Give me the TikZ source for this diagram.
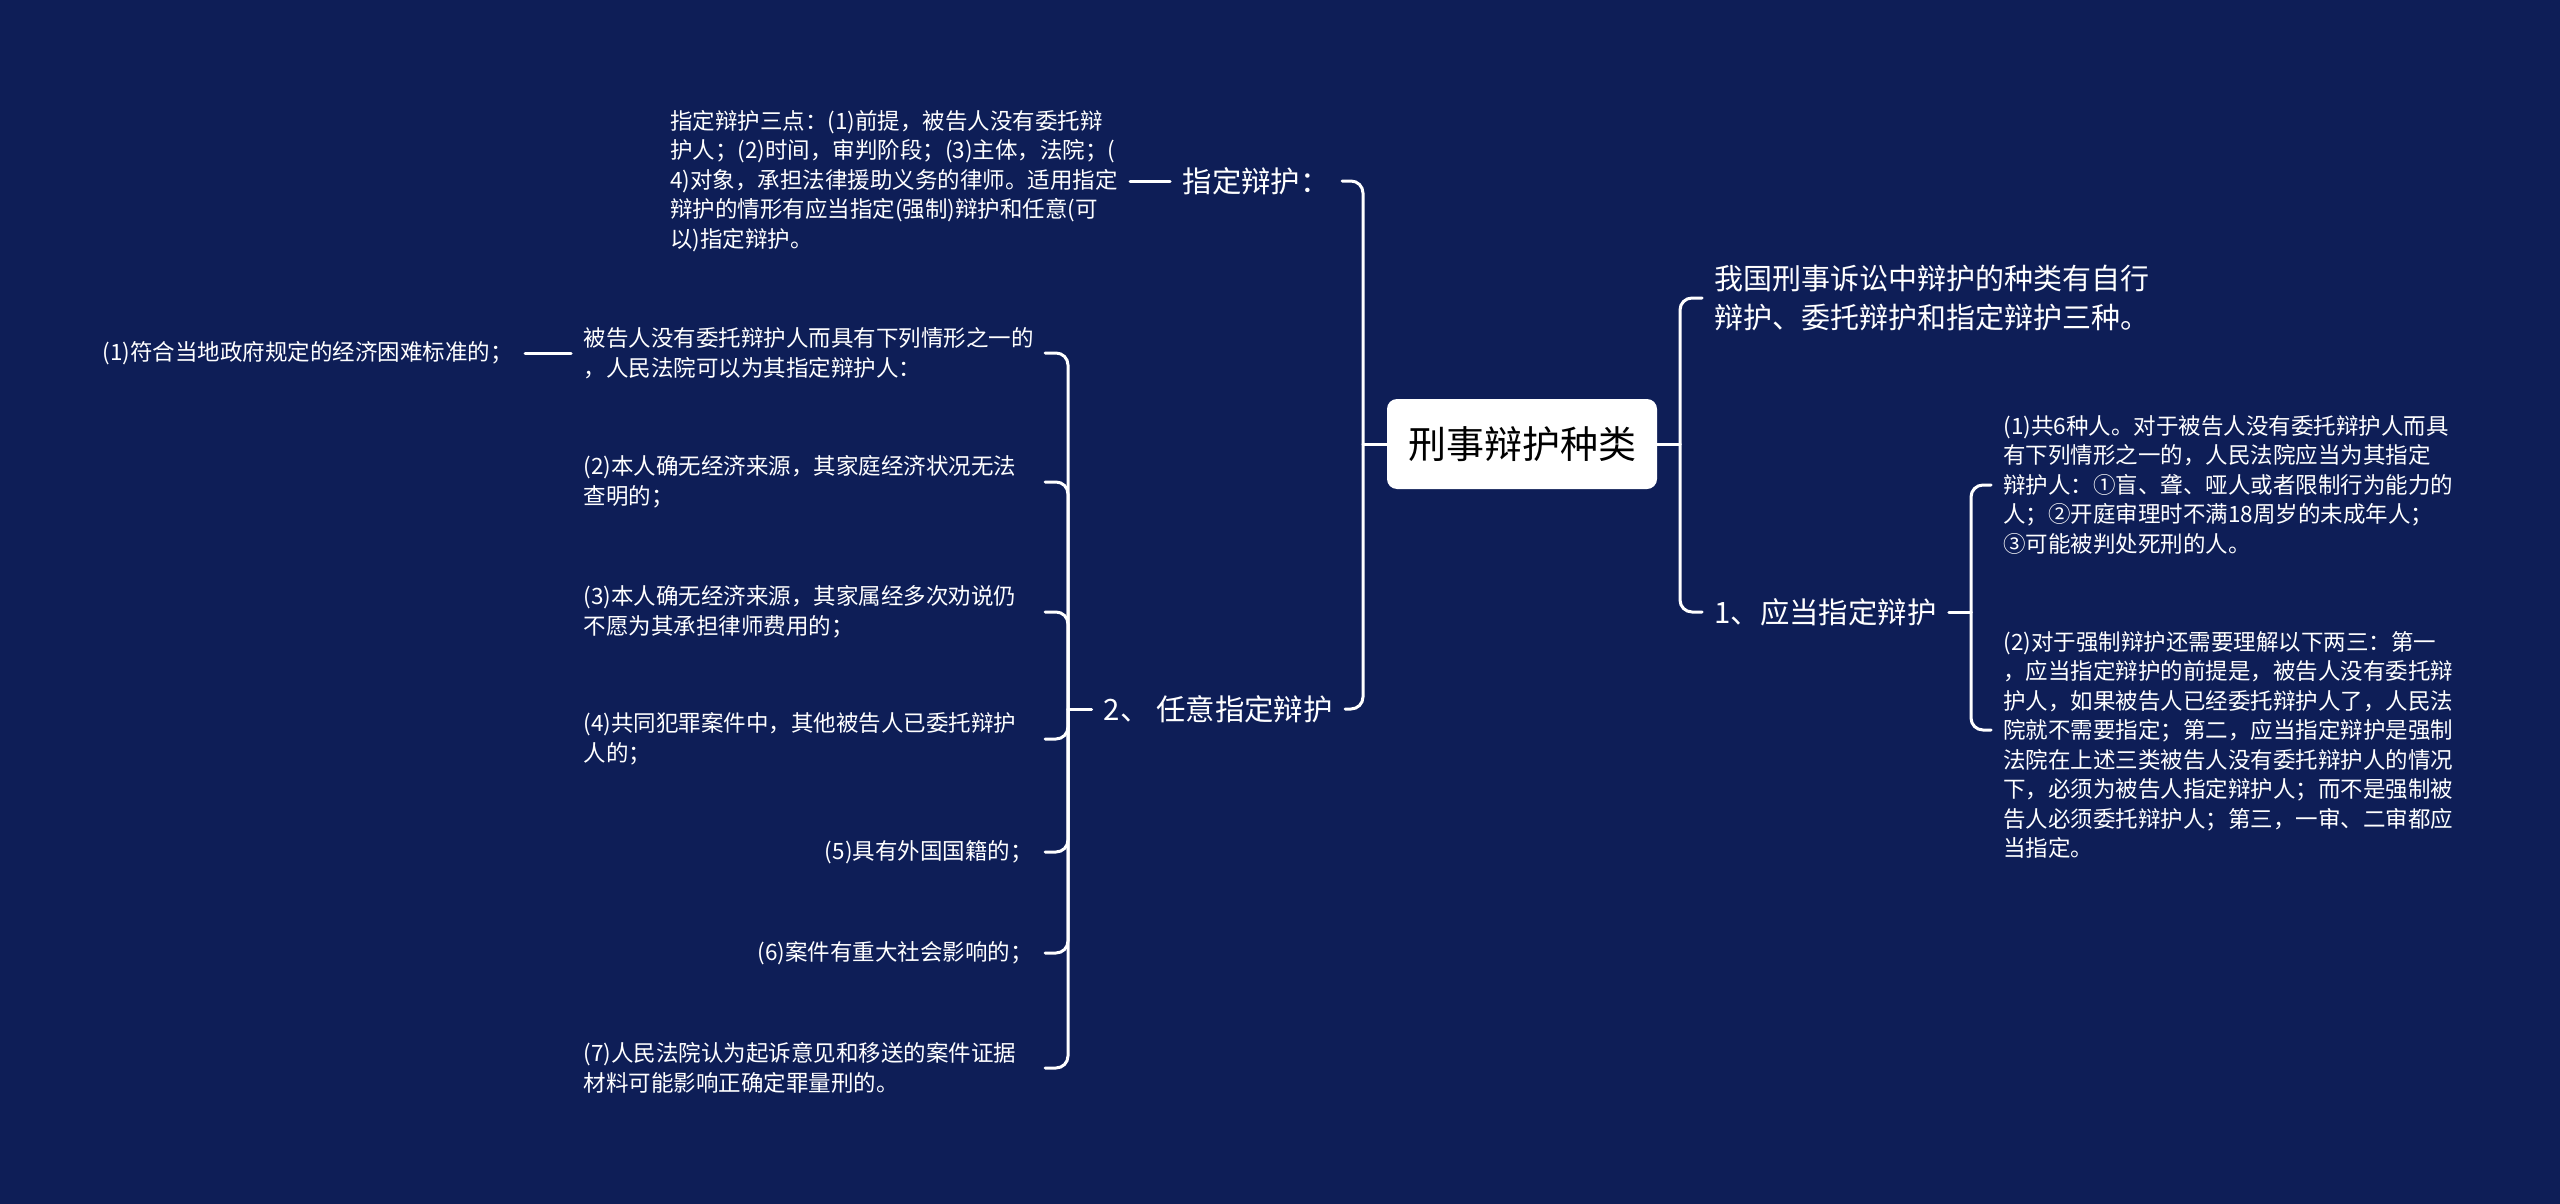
\documentclass[tikz,border=0pt]{standalone}
\usepackage{fontspec}
\setmainfont{Noto Sans CJK SC}
\usepackage{tikz}
\usetikzlibrary{positioning}
\definecolor{bgblue}{RGB}{14,30,87}

\begin{document}
\begin{tikzpicture}[x=0.5pt,y=-0.5pt]%
\fill[bgblue] (0,0) rectangle (2560,1204);
\useasboundingbox (0,0) rectangle (2560,1204);
\tikzstyle{link}=[draw=white,line width=1.5pt,rounded corners=6pt,line cap=round]
\tikzstyle{txt}=[text=white,font=\fontsize{11.25}{14.75}\selectfont,align=left,inner sep=6pt]
\tikzstyle{para}=[txt,text width=224.5pt]
\tikzstyle{lbl}=[text=white,font=\fontsize{14.7}{17}\selectfont,inner sep=6pt]
%% root
\node[fill=white,rounded corners=5pt,minimum width=135pt,minimum height=45pt,font=\fontsize{19}{22}\selectfont] (root) at (1522,444) {刑事辩护种类}; %%
%% left side
\node[lbl,anchor=east] (zd) at (1342,181) {指定辩护：}; %%
\node[txt,anchor=east] (zdtxt) at (1130,181) {指定辩护三点：(1)前提，被告人没有委托辩\\护人；(2)时间，审判阶段；(3)主体，法院；(\\4)对象，承担法律援助义务的律师。适用指定\\辩护的情形有应当指定(强制)辩护和任意(可\\以)指定辩护。}; %%
\node[lbl,anchor=east] (rz) at (1345,709) {2、 任意指定辩护}; %%
\coordinate (lb) at (1363,444);
\draw[link] (root.west) -- (lb);
\draw[link] (lb) |- (zd.east);
\draw[link] (lb) |- (rz.east);
\draw[link] (zdtxt.east) -- (zd.west);
\begin{scope}[every node/.style={txt,anchor=east}]
\node[para] (n1) at (1045,353) {被告人没有委托辩护人而具有下列情形之一的\\，人民法院可以为其指定辩护人：}; %%
\node[para] (n2) at (1045,482) {(2)本人确无经济来源，其家庭经济状况无法\\查明的；}; %%
\node[para] (n3) at (1045,612) {(3)本人确无经济来源，其家属经多次劝说仍\\不愿为其承担律师费用的；}; %%
\node[para] (n4) at (1045,739) {(4)共同犯罪案件中，其他被告人已委托辩护\\人的；}; %%
\node (n5) at (1045,852) {(5)具有外国国籍的；}; %%
\node (n6) at (1045,953) {(6)案件有重大社会影响的；}; %%
\node[para] (n7) at (1045,1068) {(7)人民法院认为起诉意见和移送的案件证据\\材料可能影响正确定罪量刑的。}; %%
\node (n1a) at (525,353) {(1)符合当地政府规定的经济困难标准的；}; %%
\end{scope}
\draw[link] (n1a.east) -- (n1.west);
\coordinate (rb) at (1068,709);
\draw[link] (rz.west) -- (rb);
\foreach \n in {n1,n2,n3,n4,n5,n6,n7}
  \draw[link] (rb) |- (\n.east);
%% right side
\coordinate (rc) at (1680,444);
\draw[link] (root.east) -- (rc);
\node[txt,anchor=west,font=\fontsize{14.5}{19.5}\selectfont] (kind) at (1702,298) {我国刑事诉讼中辩护的种类有自行\\辩护、委托辩护和指定辩护三种。}; %%
\node[lbl,anchor=west] (yd) at (1702,612) {1、应当指定辩护}; %%
\draw[link] (rc) |- (kind.west);
\draw[link] (rc) |- (yd.west);
\coordinate (rd) at (1971,612);
\draw[link] (yd.east) -- (rd);
\node[txt,anchor=west] (m1) at (1991,485) {(1)共6种人。对于被告人没有委托辩护人而具\\有下列情形之一的，人民法院应当为其指定\\辩护人：①盲、聋、哑人或者限制行为能力的\\人；②开庭审理时不满18周岁的未成年人；\\③可能被判处死刑的人。}; %%
\node[txt,anchor=west] (m2) at (1991,745) {(2)对于强制辩护还需要理解以下两三：第一\\，应当指定辩护的前提是，被告人没有委托辩\\护人，如果被告人已经委托辩护人了，人民法\\院就不需要指定；第二，应当指定辩护是强制\\法院在上述三类被告人没有委托辩护人的情况\\下，必须为被告人指定辩护人；而不是强制被\\告人必须委托辩护人；第三，一审、二审都应\\当指定。}; %%
\draw[link] (rd) |- (m1.west);
\draw[link] (rd) |- ([yshift=7.5pt]m2.west);
\end{tikzpicture}
\end{document}
